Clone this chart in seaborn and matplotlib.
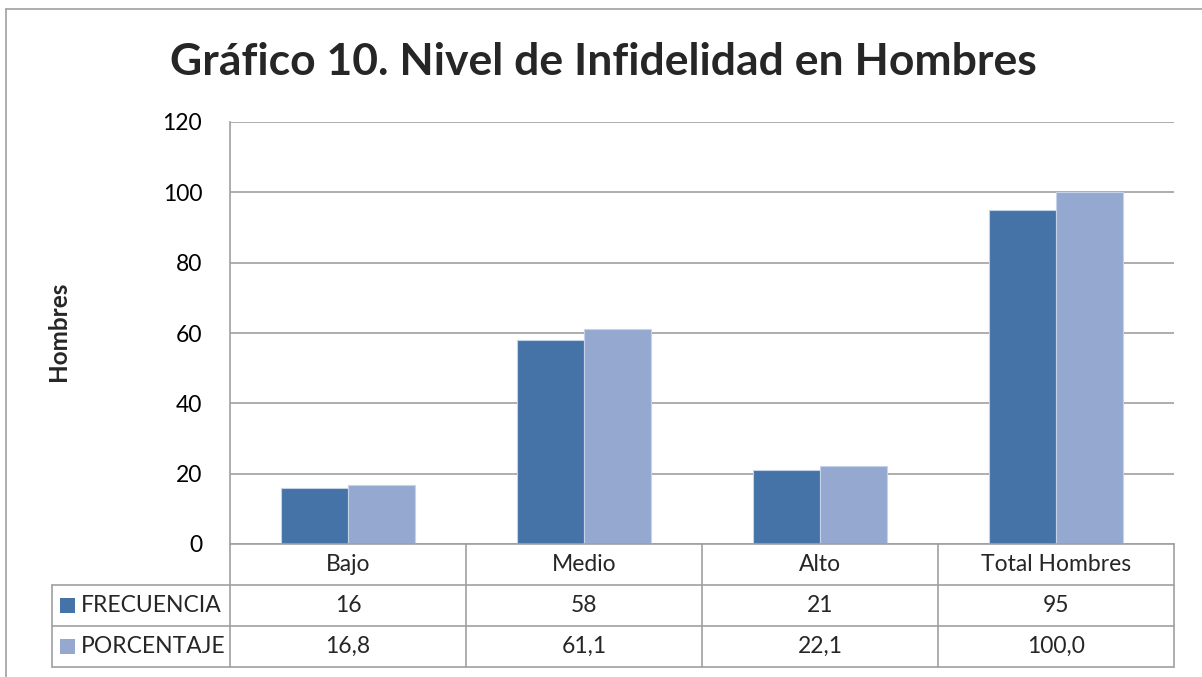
import matplotlib
matplotlib.use("Agg")
import matplotlib.pyplot as plt
from matplotlib.lines import Line2D
from matplotlib.patches import Rectangle
import pandas as pd
import seaborn as sns

categorias = ['Bajo', 'Medio', 'Alto', 'Total Hombres']
frecuencia = [16, 58, 21, 95]
porcentaje = [16.8, 61.1, 22.1, 100.0]
frec_txt = ['16', '58', '21', '95']
porc_txt = ['16,8', '61,1', '22,1', '100,0']
series = ['FRECUENCIA', 'PORCENTAJE']
colores = ['#4572A7', '#95A9D0']

sns.set_style('white')
plt.rcParams['font.family'] = ['Lato', 'DejaVu Sans']

df = pd.DataFrame({
    'Nivel': categorias * 2,
    'Serie': [series[0]] * 4 + [series[1]] * 4,
    'Valor': frecuencia + porcentaje,
})

fig = plt.figure(figsize=(12.02, 6.77), dpi=100)
W, H = 1202, 677
ax = fig.add_axes([230 / W, 1 - 544 / H, (1174 - 230) / W, (544 - 122) / H])

sns.barplot(data=df, x='Nivel', y='Valor', hue='Serie', palette=colores,
            width=0.57, edgecolor='#C5D3EA', linewidth=0.8, ax=ax,
            legend=False, errorbar=None, saturation=1)

ax.set_xlim(-0.5, 3.5)
ax.set_ylim(0, 120)
ax.set_yticks(range(0, 121, 20))
ax.tick_params(axis='y', labelsize=16.5, length=0, pad=20, colors='black')
ax.set_xticks([])
ax.set_xlabel('')
ax.set_ylabel('')
ax.yaxis.grid(True, color='#A0A0A0', linewidth=1.2)
ax.set_axisbelow(True)
for s in ['top', 'right']:
    ax.spines[s].set_visible(False)
ax.spines['left'].set_color('#A0A0A0')
ax.spines['bottom'].set_color('#A0A0A0')
ax.spines['left'].set_linewidth(1.2)
ax.spines['bottom'].set_linewidth(1.2)

fig.text(59 / W, 1 - 331 / H, 'Hombres', rotation=90, ha='center', va='center',
         fontsize=17.5, fontweight='bold')
fig.text(603 / W, 1 - 62 / H, 'Gráfico 10. Nivel de Infidelidad en Hombres',
         ha='center', va='center', fontsize=32, fontweight='bold')

# tabla de datos (en píxeles de figura)
def px(x, y):
    return x / W, 1 - y / H

def linea(x0, y0, x1, y1):
    a, b = px(x0, y0)
    c, d = px(x1, y1)
    fig.add_artist(Line2D([a, c], [b, d], color='#A0A0A0', linewidth=1.2))

cols = [230, 466, 702, 938, 1174]
rows = [544, 585, 626, 667]
linea(52, rows[1], 1174, rows[1])
linea(52, rows[2], 1174, rows[2])
linea(52, rows[3], 1174, rows[3])
linea(52, rows[1], 52, rows[3])
for c in cols:
    linea(c, rows[0], c, rows[3])

fila_vals = [frec_txt, porc_txt]
for i, cat in enumerate(categorias):
    xc = (cols[i] + cols[i + 1]) / 2
    fig.text(*px(xc, (rows[0] + rows[1]) / 2), cat, ha='center', va='center', fontsize=16.5)
    for r, vals in enumerate(fila_vals):
        fig.text(*px(xc, (rows[r + 1] + rows[r + 2]) / 2), vals[i],
                 ha='center', va='center', fontsize=16.5)

for r, nombre in enumerate(series):
    ym = (rows[r + 1] + rows[r + 2]) / 2
    x0, y0 = px(60, ym + 7.5)
    fig.add_artist(Rectangle((x0, y0), 15 / W, 15 / H, facecolor=colores[r],
                             edgecolor='none', transform=fig.transFigure))
    fig.text(*px(81, ym), nombre, ha='left', va='center', fontsize=16.5)

# borde exterior
linea(6, 9, 6, 677)
linea(6, 9, 1202, 9)

fig.savefig('out.png', dpi=100)
